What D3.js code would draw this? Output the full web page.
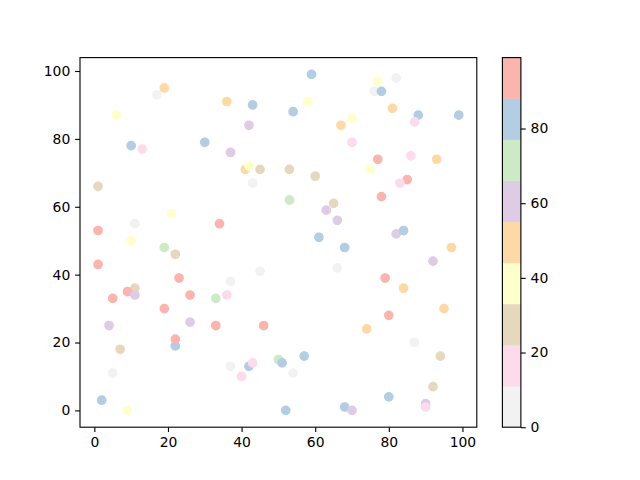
<!DOCTYPE html>
<html><head><meta charset="utf-8">
<script src="https://cdn.jsdelivr.net/npm/d3@7"></script>
<style>body{margin:0;background:#fff}svg{display:block}text{font-family:"DejaVu Sans",sans-serif}</style>
</head><body><svg id="c" width="640" height="480"></svg>
<script>
const xs = [19,17,6,10,13,30,1,59,36,43,54,58,42,67,37,41,42,45,53,60,43,77,82,76,78,81,88,99,87,70,70,77,86,93,75,85,83,21,11,1,10,19,22,1,23,11,9,11,5,26,19,53,65,63,66,34,61,68,45,66,37,36,33,78,82,84,97,92,79,84,95,4,26,33,22,22,7,5,2,9,46,37,42,43,40,50,51,57,54,52,68,80,74,87,94,92,80,70,90,90];
const ys = [95,93,87,78,77,79,66,99,91,90,88,91,84,84,76,71,72,71,71,69,67,97,98,94,94,89,87,87,85,86,79,74,75,74,71,68,67,58,55,53,50,48,46,43,39,36,35,34,33,34,30,62,61,59,56,55,51,48,41,42,38,34,33,63,52,53,48,44,39,36,30,25,26,25,19,21,18,11,3,0,25,13,13,14,10,15,14,16,11,0,1,28,24,20,16,7,4,0,2,1];
const cs = [49,5,38,82,16,82,27,83,50,81,84,39,60,48,61,47,37,26,28,29,6,40,3,7,80,51,85,79,17,36,15,92,18,52,41,95,14,37,4,90,39,71,25,96,91,28,94,59,93,89,97,70,27,62,57,92,80,83,2,8,6,15,72,94,58,84,50,61,90,48,53,63,57,99,81,91,26,0,80,42,89,5,82,19,13,73,86,79,4,84,81,93,46,3,30,24,85,56,61,16];
const xTicks = [0,20,40,60,80,100];
const yTicks = [0,20,40,60,80,100];
const cTicks = [0,20,40,60,80];
const palette = ['#f2f2f2','#fddaec','#e5d8bd','#ffffcc','#fed9a6','#decbe4','#ccebc5','#b3cde3','#fbb4ae'];

const svg = d3.select('#c');
const L = 80, R = 476.8, T = 57.6, B = 427.2;
const x = d3.scaleLinear().domain([1-4.9, 99+4.9]).range([L, R]);
const y = d3.scaleLinear().domain([0-4.95, 99+4.95]).range([B, T]);
const color = d3.scaleQuantize().domain([0, 99]).range(palette);

const pts = xs.map((v,i)=>({x:v,y:ys[i],c:cs[i]}));
svg.append('g').selectAll('circle').data(pts).join('circle')
  .attr('cx',d=>x(d.x)).attr('cy',d=>y(d.y)).attr('r',4.17)
  .attr('fill',d=>color(d.c)).attr('stroke',d=>color(d.c)).attr('stroke-width',1.39);

const tl = 4.86, fs = '13.9px';
const gx = svg.append('g').attr('transform',`translate(0,${B})`)
  .call(d3.axisBottom(x).tickValues(xTicks).tickSize(tl).tickPadding(4.86).tickFormat(d3.format('d')));
const gy = svg.append('g').attr('transform',`translate(${L},0)`)
  .call(d3.axisLeft(y).tickValues(yTicks).tickSize(tl).tickPadding(4.86).tickFormat(d3.format('d')));
[gx,gy].forEach(g=>{g.select('.domain').remove();g.selectAll('line').attr('stroke','#000').attr('stroke-width',1.11);g.selectAll('text').attr('font-size',fs).attr('fill','#000').attr('font-family','"DejaVu Sans",sans-serif');});
svg.append('rect').attr('x',L).attr('y',T).attr('width',R-L).attr('height',B-T)
  .attr('fill','none').attr('stroke','#000').attr('stroke-width',1.11);

// colorbar
const cbL = 502.4, cbW = 18.48;
const cy = d3.scaleLinear().domain([0,99]).range([B, T]);
const edges = [0, ...color.thresholds(), 99];
svg.append('g').selectAll('rect').data(palette).join('rect')
  .attr('x',cbL).attr('width',cbW)
  .attr('y',(d,i)=>cy(edges[i+1])).attr('height',(d,i)=>cy(edges[i])-cy(edges[i+1]))
  .attr('fill',d=>d).attr('stroke',d=>d).attr('stroke-width',0.5);
const gc = svg.append('g').attr('transform',`translate(${cbL+cbW},0)`)
  .call(d3.axisRight(cy).tickValues(cTicks).tickSize(tl).tickPadding(4.86).tickFormat(d3.format('d')));
gc.select('.domain').remove();
gc.selectAll('line').attr('stroke','#000').attr('stroke-width',1.11);
gc.selectAll('text').attr('font-size',fs).attr('fill','#000').attr('font-family','"DejaVu Sans",sans-serif');
svg.append('rect').attr('x',cbL).attr('y',T).attr('width',cbW).attr('height',B-T)
  .attr('fill','none').attr('stroke','#000').attr('stroke-width',1.11);
</script></body></html>
